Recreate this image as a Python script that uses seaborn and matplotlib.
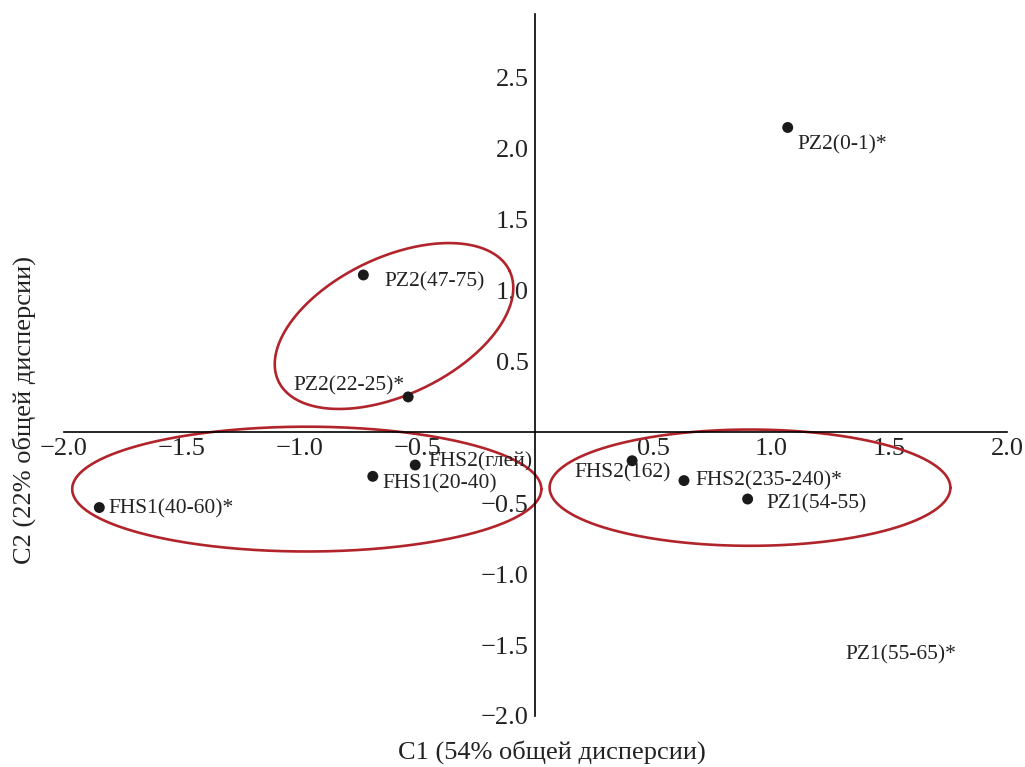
import numpy as np
import pandas as pd
import matplotlib
matplotlib.use("Agg")
import matplotlib.pyplot as plt
import seaborn as sns

# ---- data ----
labels = ["PZ2(0-1)*", "PZ2(47-75)", "PZ2(22-25)*", "FHS2(глей)", "FHS1(20-40)",
          "FHS1(40-60)*", "FHS2(162)", "FHS2(235-240)*", "PZ1(54-55)"]
c1 = [1.07, -0.73, -0.54, -0.51, -0.69, -1.85, 0.41, 0.63, 0.90]
c2 = [2.15, 1.11, 0.25, -0.23, -0.31, -0.53, -0.20, -0.34, -0.47]
# label offsets (pixels) and alignment
label_dx = [10, 21, -4, 13, 10, 9, -9, 11, 19]
label_dy = [-17, -7, 11, 3, -8, -1, -12, 0, -5]
label_ha = ["left", "left", "right", "left", "left", "left", "center", "left", "left"]

# label without a visible point
extra_label = "PZ1(55-65)*"
extra_pos = (1.55, -1.57)

# group ellipses: centre, two conjugate semi-diameters (data units)
ell_centers = [(-0.97, -0.40), (0.91, -0.39), (-0.60, 0.75)]
ell_u = [(0.995, 0.0), (0.85, 0.0), (0.49, 0.39)]
ell_v = [(0.0, 0.44), (0.0, 0.41), (-0.126, 0.436)]

xticks = [-2.0, -1.5, -1.0, -0.5, 0.5, 1.0, 1.5, 2.0]
yticks = [-2.0, -1.5, -1.0, -0.5, 0.5, 1.0, 1.5, 2.0, 2.5]
xlabel = "C1 (54% общей дисперсии)"
ylabel = "C2 (22% общей дисперсии)"

df = pd.DataFrame({"C1": c1, "C2": c2, "label": labels})

sns.set_style("white")
plt.rcParams["font.family"] = ["Liberation Serif", "DejaVu Serif"]
plt.rcParams["axes.unicode_minus"] = True

fig = plt.figure(figsize=(10.25, 7.67), dpi=100)
ax = fig.add_axes([0.0624, 0.0665, 0.920, 0.9152])

sns.scatterplot(data=df, x="C1", y="C2", ax=ax, color="#1a1a1a", s=62,
                edgecolor="none", zorder=3, legend=False)

for lab, x, y, dx, dy, ha in zip(labels, c1, c2, label_dx, label_dy, label_ha):
    ax.annotate(lab, (x, y), xytext=(dx, dy), textcoords="offset pixels",
                ha=ha, va="center", fontsize=15.5, color="#222222")
ax.text(extra_pos[0], extra_pos[1], extra_label, ha="center", va="center",
        fontsize=15.5, color="#222222")

t = np.linspace(0, 2 * np.pi, 400)
for (cx, cy), (ux, uy), (vx, vy) in zip(ell_centers, ell_u, ell_v):
    ex = cx + ux * np.cos(t) + vx * np.sin(t)
    ey = cy + uy * np.cos(t) + vy * np.sin(t)
    ax.plot(ex, ey, color="#b2242b", lw=1.9, zorder=2, clip_on=False)

ax.set_xlim(-2.0, 2.0)
ax.set_ylim(-2.0, 2.95)
ax.spines["left"].set_position(("data", 0))
ax.spines["bottom"].set_position(("data", 0))
ax.spines["top"].set_visible(False)
ax.spines["right"].set_visible(False)
for s in ("left", "bottom"):
    ax.spines[s].set_color("black")
    ax.spines[s].set_linewidth(1.2)
ax.spines["left"].set_bounds(-2.0, 2.95)

ax.set_xticks(xticks)
ax.set_yticks(yticks)
ax.set_xticklabels([f"{v:.1f}".replace("-", "\u2212") for v in xticks])
ax.set_yticklabels([f"{v:.1f}".replace("-", "\u2212") for v in yticks])
ax.tick_params(axis="both", direction="in", length=7, width=1.1, color="black",
               labelsize=19, labelcolor="#222222")
ax.tick_params(axis="x", pad=4)
ax.tick_params(axis="y", pad=5)
ax.set_xlabel("")
ax.set_ylabel("")

fig.text(552 / 1025, 1 - 752 / 767, xlabel, ha="center", va="center",
         fontsize=19, color="#222222")
fig.text(24 / 1025, 1 - 410 / 767, ylabel, ha="center", va="center",
         rotation=90, fontsize=19, color="#222222")

fig.savefig("out.png", dpi=100)
